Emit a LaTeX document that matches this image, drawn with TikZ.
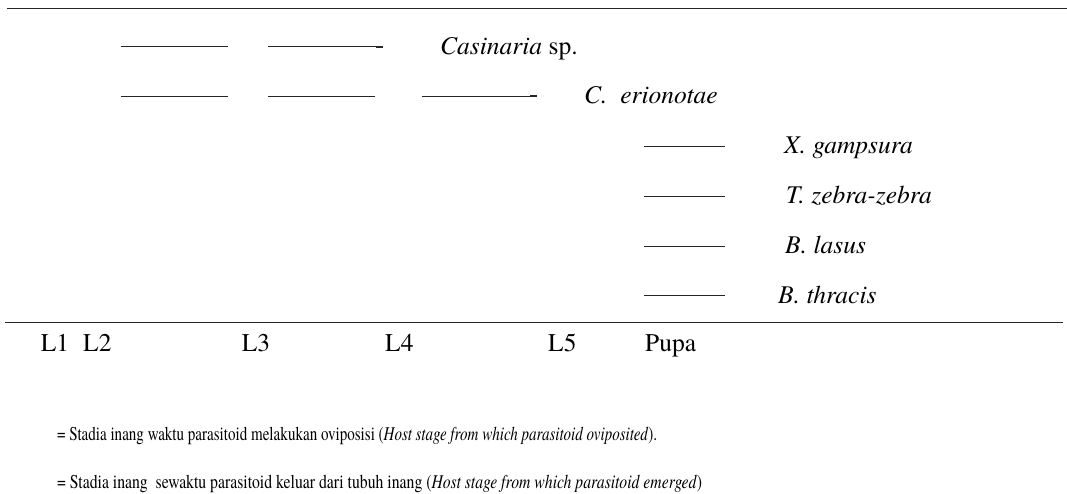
\documentclass[tikz,border=0pt]{standalone}
\usepackage{fontspec}
\setmainfont{texgyretermes}[Extension=.otf,UprightFont=*-regular,ItalicFont=*-italic,BoldFont=*-bold,BoldItalicFont=*-bolditalic]
\usepackage{graphicx}
\begin{document}
\begin{tikzpicture}[x=1pt,y=-1pt,
  lbl/.style={anchor=base west,inner sep=0pt,font=\fontsize{25.5}{30}\selectfont},
  leg/.style={anchor=base west,inner sep=0pt,font=\fontsize{19.5}{22}\selectfont},
  rule/.style={line width=1.2pt,draw=black!85},
  bar/.style={line width=0.9pt,draw=black!85},
  tick/.style={line width=2pt,draw=black!85}]
\useasboundingbox (0,0) rectangle (1067,494);
% rules
\draw[rule] (7,8.3) -- (1067,8.3);
\draw[rule] (5,322.7) -- (1063,322.7);
% row 1
\draw[bar] (121,46.7) -- (228,46.7);
\draw[bar] (268,46.7) -- (376,46.7);
\draw[tick] (376,46.7) -- (383,46.7);
\node[lbl] (cas) at (440,54.5) {\textit{Casinaria} sp.};
% row 2
\draw[bar] (121,96.3) -- (228,96.3);
\draw[bar] (268,96.3) -- (375,96.3);
\draw[bar] (422,96.3) -- (530,96.3);
\draw[tick] (530,96.3) -- (537,96.3);
\node[lbl] (cer) at (584,104) {\textit{C.\ \ erionotae}};
% rows 3-6
\draw[bar] (644,146.3) -- (725,146.3);
\node[lbl] (xg) at (784,154) {\textit{X. gampsura}};
\draw[bar] (644,196.3) -- (725,196.3);
\node[lbl] (tz) at (786,204) {\textit{T. zebra-zebra}};
\draw[bar] (644,246.3) -- (725,246.3);
\node[lbl] (bl) at (785,254) {\textit{B. lasus}};
\draw[bar] (644,295.3) -- (725,295.3);
\node[lbl] (bt) at (778,303) {\textit{B. thracis}};
% axis labels
\node[lbl] (l1) at (40.7,351.7) {L1};
\node[lbl] (l2) at (83,351.7) {L2};
\node[lbl] (l3) at (241.7,351.7) {L3};
\node[lbl] (l4) at (385,351.7) {L4};
\node[lbl] (l5) at (548,351.7) {L5};
\node[lbl] (pupa) at (645,351.7) {Pupa};
% legend
\node[leg] (leg1) at (57,440) {\resizebox{600pt}{\height}{= Stadia inang waktu parasitoid melakukan oviposisi (\textit{Host stage from which parasitoid oviposited}).}};
\node[leg] (leg2) at (57,488) {\resizebox{645pt}{\height}{= Stadia inang\ \ sewaktu parasitoid keluar dari tubuh inang (\textit{Host stage from which parasitoid emerged})}};
\end{tikzpicture}
\end{document}
